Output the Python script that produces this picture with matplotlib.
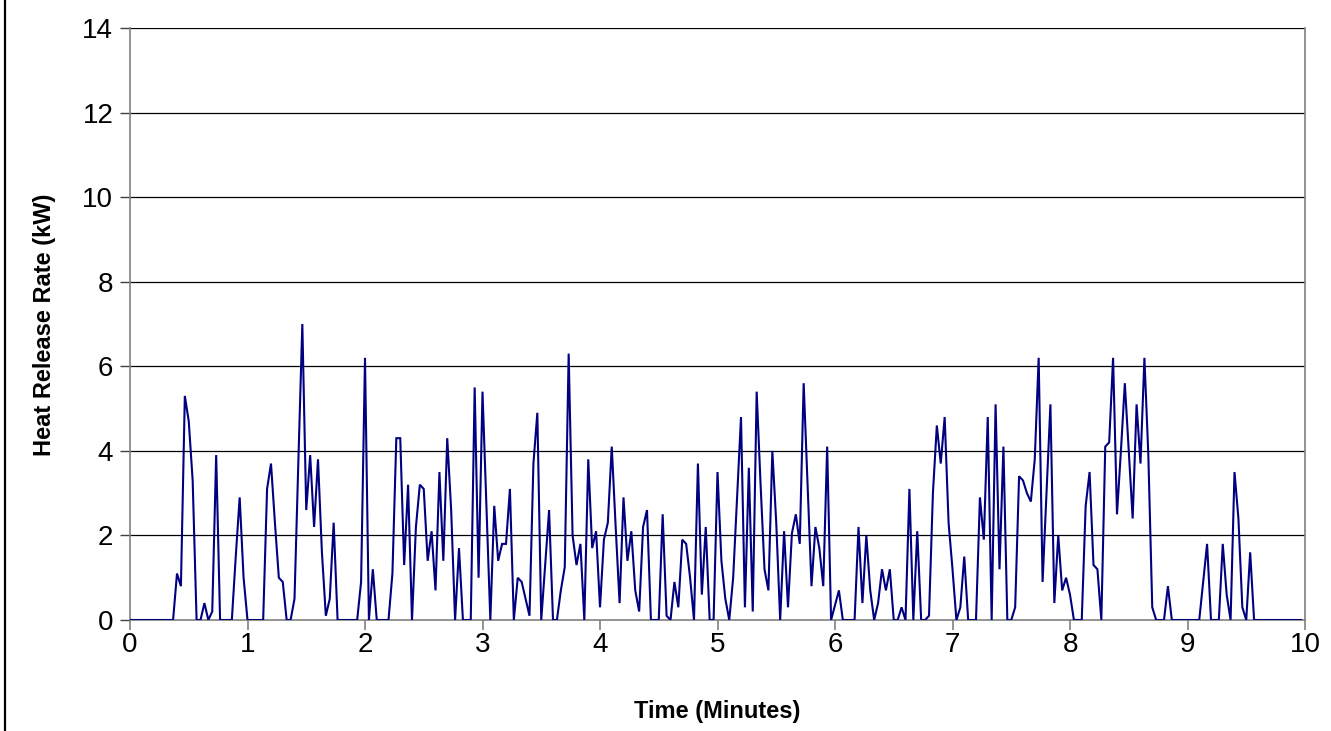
import numpy as np
import matplotlib
matplotlib.use("Agg")
import matplotlib.pyplot as plt
from matplotlib.lines import Line2D

# sample interval: 2 seconds (1/30 minute)
n_samples = 300
time_min = np.arange(n_samples) / 30.0

hrr_kw = [
    0, 0, 0, 0, 0, 0, 0, 0, 0, 0, 0, 0,
    1.1, 0.8, 5.3, 4.7, 3.3, 0, 0, 0.4, 0, 0.2, 3.9, 0, 0, 0, 0, 1.5, 2.9, 1.0,
    0, 0, 0, 0, 0, 3.1, 3.7, 2.3, 1.0, 0.9, 0, 0, 0.5, 3.8, 7.0, 2.6, 3.9, 2.2, 3.8, 1.6,
    0.1, 0.5, 2.3, 0, 0, 0, 0, 0, 0, 0.9, 6.2, 0, 1.2, 0, 0, 0, 0, 1.1, 4.3, 4.3,
    1.3, 3.2, 0, 2.2, 3.2, 3.1, 1.4, 2.1, 0.7, 3.5, 1.4, 4.3, 2.6, 0, 1.7, 0, 0, 0, 5.5, 1.0,
    5.4, 2.7, 0, 2.7, 1.4, 1.8, 1.8, 3.1, 0, 1.0, 0.9, 0.5, 0.1, 3.7, 4.9, 0, 1.3, 2.6, 0, 0,
    0.7, 1.25, 6.3, 2.0, 1.3, 1.8, 0, 3.8, 1.7, 2.1, 0.3, 1.9, 2.3, 4.1, 2.2, 0.4, 2.9, 1.4, 2.1, 0.7,
    0.2, 2.2, 2.6, 0, 0, 0, 2.5, 0.1, 0, 0.9, 0.3, 1.9, 1.8, 1.0, 0, 3.7, 0.6, 2.2, 0, 0,
    3.5, 1.4, 0.5, 0, 1.0, 2.9, 4.8, 0.3, 3.6, 0.2, 5.4, 3.2, 1.2, 0.7, 4.0, 2.3, 0, 2.1, 0.3, 2.05,
    2.5, 1.8, 5.6, 3.2, 0.8, 2.2, 1.7, 0.8, 4.1, 0, 0.35, 0.7, 0, 0, 0, 0, 2.2, 0.4, 2.0, 0.7,
    0, 0.4, 1.2, 0.7, 1.2, 0, 0, 0.3, 0, 3.1, 0, 2.1, 0, 0, 0.1, 3.0, 4.6, 3.7, 4.8, 2.3,
    1.2, 0, 0.3, 1.5, 0, 0, 0, 2.9, 1.9, 4.8, 0, 5.1, 1.2, 4.1, 0, 0, 0.3, 3.4, 3.3, 3.0,
    2.8, 3.8, 6.2, 0.9, 3.0, 5.1, 0.4, 2.0, 0.7, 1.0, 0.6, 0, 0, 0, 2.7, 3.5, 1.3, 1.2, 0, 4.1,
    4.2, 6.2, 2.5, 4.0, 5.6, 4.0, 2.4, 5.1, 3.7, 6.2, 3.9, 0.3, 0, 0, 0, 0.8, 0, 0, 0, 0,
    0, 0, 0, 0, 0.9, 1.8, 0, 0, 0, 1.8, 0.6, 0, 3.5, 2.4, 0.3, 0, 1.6, 0, 0, 0,
    0, 0, 0, 0, 0, 0, 0, 0, 0, 0,
]

x_ticks = list(range(0, 11))
y_ticks = list(range(0, 15, 2))
x_title = "Time (Minutes)"
y_title = "Heat Release Rate (kW)"

plt.rcParams['font.family'] = ['Liberation Sans', 'DejaVu Sans']

fig = plt.figure(figsize=(13.31, 7.31), dpi=100)
ax = fig.add_axes([130/1331, 111/731, 1175/1331, 592/731])

ax.set_xlim(0, 10)
ax.set_ylim(0, 14)
ax.set_xticks(x_ticks)
ax.set_yticks(y_ticks)
ax.set_xticklabels([str(v) for v in x_ticks], fontsize=20)
ax.set_yticklabels([str(v) for v in y_ticks], fontsize=20)

for yv in y_ticks[1:]:
    ax.axhline(yv, color='black', lw=0.9, zorder=1)

ax.plot(time_min, hrr_kw[:n_samples], color='#000080', lw=1.5, zorder=3,
        solid_joinstyle='miter')

for s in ['left', 'bottom', 'right']:
    ax.spines[s].set_color('#808080')
    ax.spines[s].set_linewidth(1.2)
ax.spines['top'].set_visible(False)

ax.tick_params(axis='x', direction='out', length=7, width=1.2, color='#808080', pad=2)
ax.tick_params(axis='y', direction='out', length=7, width=1.0, color='#404040', pad=5)

ax.set_xlabel(x_title, fontsize=17, fontweight='bold')
ax.set_ylabel(y_title, fontsize=17, fontweight='bold')
ax.xaxis.set_label_coords((717 - 130) / 1175, (620 - 700) / 592)
ax.yaxis.set_label_coords((56 - 130) / 1175, (620 - 325) / 592)

fig.add_artist(Line2D([5/1331, 5/1331], [0, 1], color='black', lw=1.6,
                      transform=fig.transFigure))

fig.savefig("out.png", dpi=100)
